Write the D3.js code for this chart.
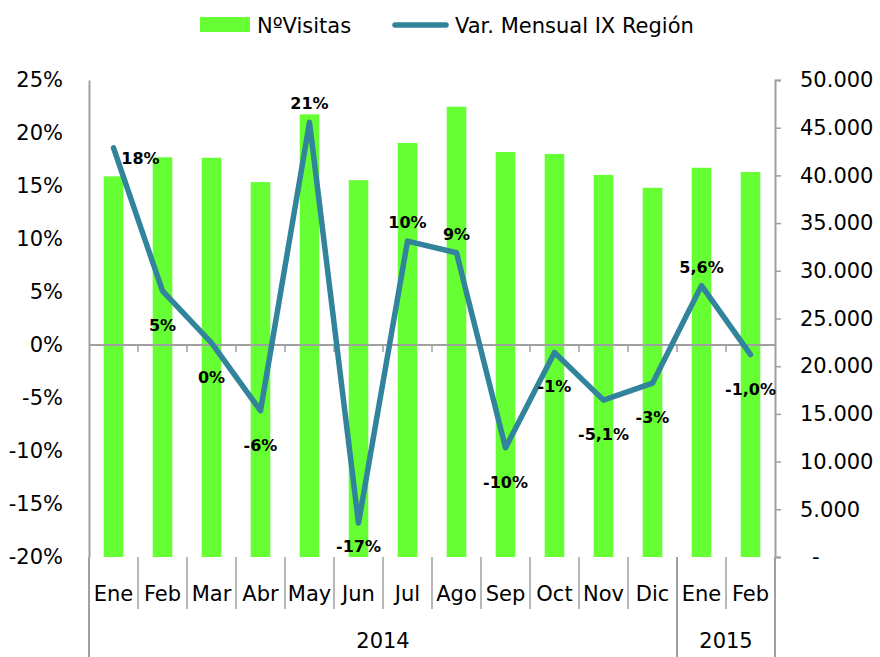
<!DOCTYPE html>
<html>
<head>
<meta charset="UTF-8">
<title></title>
<script src="https://d3js.org/d3.v7.min.js"></script>
<style>
  body { margin: 0; background: #fff; }
  text { font-family: 'DejaVu Sans', sans-serif; }
</style>
</head>
<body>
<div id="chart"></div>
<script>
  // datos
  const meses = ['Ene','Feb','Mar','Abr','May','Jun','Jul','Ago','Sep','Oct','Nov','Dic','Ene','Feb']
  const anios = ['2014','2015']
  const mesesPorAnio = [12, 2]
  const visitas = [39900, 41900, 41850, 39300, 46400, 39500, 43400, 47200, 42450, 42250, 40050, 38700, 40800, 40350]
  const variacion = [0.186, 0.051, 0.002, -0.062, 0.210, -0.168, 0.098, 0.087, -0.097, -0.007, -0.052, -0.036, 0.056, -0.009]
  const etiquetas = ['18%','5%','0%','-6%','21%','-17%','10%','9%','-10%','-1%','-5,1%','-3%','5,6%','-1,0%']
  const ticksPct = [-0.2,-0.15,-0.1,-0.05,0,0.05,0.1,0.15,0.2,0.25]
  const ticksVis = [0,5000,10000,15000,20000,25000,30000,35000,40000,45000,50000]
  // posición de la etiqueta: r = derecha, a = arriba, b = abajo
  const posEtiqueta = ['r','b','b','b','a','b','a','a','b','b','b','b','a','b']

  const verde = '#66ff33', azul = '#31849b', gris = '#a0a0a0'
  const W = 880, H = 657
  const mIzq = 89, mDer = 775, mSup = 80, mInf = 557

  const svg = d3.select('#chart').append('svg').attr('width', W).attr('height', H)

  const es = d3.formatLocale({decimal: ',', thousands: '.', grouping: [3], currency: ['', '€'], minus: '-'})
  const fPct = es.format('.0%')
  const fNum = es.format(',.0f')

  const x = d3.scaleBand().domain(d3.range(meses.length)).range([mIzq, mDer]).paddingInner(0.6).paddingOuter(0.3)
  const yL = d3.scaleLinear().domain([-0.2, 0.25]).range([mInf, mSup])
  const yR = d3.scaleLinear().domain([0, 50000]).range([mInf, mSup])
  const paso = x.step()

  // barras
  svg.append('g').selectAll('rect').data(visitas).enter().append('rect')
    .attr('x', (d,i) => x(i)).attr('width', x.bandwidth())
    .attr('y', d => yR(d)).attr('height', d => yR(0) - yR(d))
    .attr('fill', verde)

  // eje izquierdo
  const ejeL = svg.append('g').attr('transform', `translate(${mIzq},0)`)
    .call(d3.axisLeft(yL).tickValues(ticksPct).tickFormat(fPct).tickSize(0).tickPadding(26))
  ejeL.select('.domain').attr('stroke', gris).attr('stroke-width', 2)
  ejeL.selectAll('text').attr('font-size', 21).attr('fill', '#000').attr('font-family', 'DejaVu Sans')

  // eje derecho
  const ejeR = svg.append('g').attr('transform', `translate(${mDer},0)`)
    .call(d3.axisRight(yR).tickValues(ticksVis).tickFormat(d => d === 0 ? '-' : fNum(d)).tickSizeInner(6).tickSizeOuter(6).tickPadding(19))
  ejeR.select('.domain').attr('stroke', gris).attr('stroke-width', 2)
  ejeR.selectAll('line').attr('stroke', gris).attr('stroke-width', 1.5)
  ejeR.selectAll('text').attr('font-size', 21).attr('fill', '#000').attr('font-family', 'DejaVu Sans')
  ejeR.selectAll('text').filter(d => d === 0).attr('dx', 12)

  // línea del cero con marcas
  const y0 = yL(0)
  svg.append('line').attr('x1', mIzq).attr('x2', mDer).attr('y1', y0).attr('y2', y0)
    .attr('stroke', gris).attr('stroke-width', 2)
  svg.append('g').selectAll('line').data(d3.range(1, meses.length)).enter().append('line')
    .attr('x1', i => mIzq + i * paso).attr('x2', i => mIzq + i * paso)
    .attr('y1', y0).attr('y2', y0 + 7).attr('stroke', gris).attr('stroke-width', 1.5)

  // categorías abajo
  svg.append('g').selectAll('text').data(meses).enter().append('text')
    .attr('x', (d,i) => x(i) + x.bandwidth() / 2).attr('y', 601)
    .attr('text-anchor', 'middle').attr('font-size', 21).text(d => d)
  svg.append('g').selectAll('line').data(d3.range(1, meses.length)).enter().append('line')
    .attr('x1', i => mIzq + i * paso).attr('x2', i => mIzq + i * paso)
    .attr('y1', mInf).attr('y2', 609).attr('stroke', gris).attr('stroke-width', 1.5)

  // años
  const cortes = [0]
  mesesPorAnio.forEach(n => cortes.push(cortes[cortes.length - 1] + n))
  svg.append('g').selectAll('line').data(cortes).enter().append('line')
    .attr('x1', c => mIzq + c * paso).attr('x2', c => mIzq + c * paso)
    .attr('y1', mInf).attr('y2', H).attr('stroke', gris).attr('stroke-width', 2)
  svg.append('g').selectAll('text').data(anios).enter().append('text')
    .attr('x', (d,i) => mIzq + (cortes[i] + cortes[i+1]) / 2 * paso).attr('y', 648)
    .attr('text-anchor', 'middle').attr('font-size', 21).text(d => d)

  // línea de variación
  const linea = d3.line().x((d,i) => x(i) + x.bandwidth() / 2).y(d => yL(d))
  svg.append('path').datum(variacion).attr('d', linea)
    .attr('fill', 'none').attr('stroke', azul).attr('stroke-width', 5.5)
    .attr('stroke-linejoin', 'round').attr('stroke-linecap', 'round')

  // etiquetas
  svg.append('g').selectAll('text').data(variacion).enter().append('text')
    .attr('x', (d,i) => x(i) + x.bandwidth() / 2 + (posEtiqueta[i] === 'r' ? 27 : 0))
    .attr('y', (d,i) => Math.min(mInf - 5, yL(d) + (posEtiqueta[i] === 'a' ? -13 : posEtiqueta[i] === 'b' ? 40 : 16)))
    .attr('text-anchor', 'middle').attr('font-size', 16).attr('font-weight', 'bold')
    .text((d,i) => etiquetas[i])

  // leyenda
  const ley = svg.append('g')
  ley.append('rect').attr('x', 200).attr('y', 17).attr('width', 50).attr('height', 15).attr('fill', verde)
  ley.append('text').attr('x', 257).attr('y', 33).attr('font-size', 21).text('NºVisitas')
  ley.append('line').attr('x1', 395).attr('x2', 446).attr('y1', 25).attr('y2', 25)
    .attr('stroke', azul).attr('stroke-width', 5.5).attr('stroke-linecap', 'round')
  ley.append('text').attr('x', 455).attr('y', 33).attr('font-size', 21).text('Var. Mensual IX Región')
</script>
</body>
</html>
